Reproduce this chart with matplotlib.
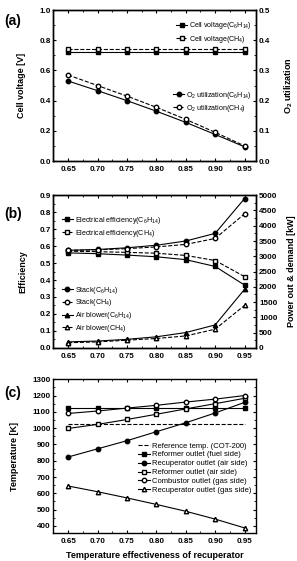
import numpy as np
import matplotlib
matplotlib.use("Agg")
import matplotlib.pyplot as plt
from matplotlib.ticker import MultipleLocator, AutoMinorLocator

plt.rcParams['font.family'] = ['Liberation Sans', 'DejaVu Sans']
plt.rcParams['mathtext.fontset'] = 'custom'
plt.rcParams['mathtext.rm'] = 'Liberation Sans'
plt.rcParams['mathtext.bf'] = 'Liberation Sans:bold'

# x values: temperature effectiveness of recuperator
eff = [0.65, 0.70, 0.75, 0.80, 0.85, 0.90, 0.95]

# (a)
cell_v_c6 = [0.725, 0.725, 0.725, 0.725, 0.725, 0.725, 0.725]
cell_v_ch4 = [0.745, 0.745, 0.745, 0.745, 0.745, 0.745, 0.745]
o2_util_c6 = [0.265, 0.233, 0.200, 0.165, 0.128, 0.088, 0.047]
o2_util_ch4 = [0.285, 0.250, 0.215, 0.178, 0.138, 0.095, 0.050]

# (b)
elec_eff_c6 = [0.560, 0.555, 0.547, 0.537, 0.520, 0.480, 0.370]
elec_eff_ch4 = [0.570, 0.567, 0.563, 0.558, 0.545, 0.515, 0.420]
stack_c6 = [3195, 3222, 3278, 3361, 3500, 3750, 4890]
stack_ch4 = [3195, 3211, 3250, 3306, 3389, 3583, 4390]
blower_c6 = [195, 222, 278, 361, 500, 750, 1917]
blower_ch4 = [167, 194, 250, 306, 389, 611, 1389]

# (c)
ref_temp = [1023, 1023, 1023, 1023, 1023, 1023, 1023]
reformer_fuel = [1123, 1123, 1123, 1123, 1123, 1123, 1123]
recup_air = [823, 873, 923, 978, 1033, 1093, 1158]
reformer_air = [998, 1023, 1053, 1085, 1118, 1150, 1183]
combustor_gas = [1090, 1105, 1123, 1140, 1160, 1178, 1200]
recup_gas = [645, 610, 572, 532, 490, 442, 388]

TICK_FS = 5.8
LAB_FS = 6.5
LEG_FS = 5.1
MS = 3.2
LW = 0.8


def style_axis(ax, right=True):
    ax.tick_params(direction='in', length=2.5, width=0.8, labelsize=TICK_FS,
                   top=True, right=right, pad=2)
    ax.tick_params(axis='x', pad=3.5)
    ax.tick_params(which='minor', direction='in', length=1.5, width=0.6,
                   top=True, right=right)
    for lab in ax.get_xticklabels() + ax.get_yticklabels():
        lab.set_fontweight('bold')
    for s in ax.spines.values():
        s.set_linewidth(1.0)


def leg(ax, handles, loc, anchor, fs=LEG_FS, spacing=0.3):
    lg = ax.legend(handles=handles, loc=loc, bbox_to_anchor=anchor, frameon=False,
                   fontsize=fs, handlelength=1.6, handletextpad=0.3,
                   labelspacing=spacing, borderaxespad=0.2)
    return lg


fig = plt.figure(figsize=(2.97, 5.61), dpi=100)
L, W = 0.180, 0.683

# ---------------- (a) ----------------
ax = fig.add_axes([L, 0.713, W, 0.269])
axr = ax.twinx()
h1, = ax.plot(eff, cell_v_c6, '-s', color='k', mfc='k', ms=MS, lw=LW,
              label='Cell voltage(C$_6$H$_{14}$)')
h2, = ax.plot(eff, cell_v_ch4, '--s', color='k', mfc='white', ms=MS, lw=LW,
              label='Cell voltage(CH$_4$)')
h3, = axr.plot(eff, o2_util_c6, '-o', color='k', mfc='k', ms=MS, lw=LW,
               label='O$_2$ utilization(C$_6$H$_{14}$)')
h4, = axr.plot(eff, o2_util_ch4, '--o', color='k', mfc='white', ms=MS, lw=LW,
               label='O$_2$ utilization(CH$_4$)')
ax.set_xlim(0.625, 0.97)
ax.set_ylim(0, 1.0)
axr.set_ylim(0, 0.5)
ax.xaxis.set_major_locator(MultipleLocator(0.05))
ax.xaxis.set_minor_locator(AutoMinorLocator(2))
ax.yaxis.set_major_locator(MultipleLocator(0.2))
ax.yaxis.set_minor_locator(AutoMinorLocator(2))
axr.yaxis.set_major_locator(MultipleLocator(0.1))
axr.yaxis.set_minor_locator(AutoMinorLocator(2))
ax.set_ylabel('Cell voltage [V]', fontsize=LAB_FS, fontweight='bold')
axr.set_ylabel('O$_\\mathbf{2}$ utilization', fontsize=LAB_FS, fontweight='bold')
ax.yaxis.set_label_coords(-0.133, 0.5)
axr.yaxis.set_label_coords(1.128, 0.5)
style_axis(ax, right=False)
style_axis(axr)
l1 = leg(axr, [h1, h2], 'upper right', (1.0, 0.96))
axr.add_artist(l1)
leg(axr, [h3, h4], 'upper right', (1.0, 0.50))
fig.text(0.015, 0.962, '(a)', fontsize=10, fontweight='bold', va='center')

# ---------------- (b) ----------------
ax = fig.add_axes([L, 0.380, W, 0.272])
axr = ax.twinx()
g1, = ax.plot(eff, elec_eff_c6, '-s', color='k', mfc='k', ms=MS, lw=LW,
              label='Electrical efficiency(C$_6$H$_{14}$)')
g2, = ax.plot(eff, elec_eff_ch4, '--s', color='k', mfc='white', ms=MS, lw=LW,
              label='Electrical efficiency(CH$_4$)')
g3, = axr.plot(eff, stack_c6, '-o', color='k', mfc='k', ms=MS, lw=LW,
               label='Stack(C$_6$H$_{14}$)')
g4, = axr.plot(eff, stack_ch4, '--o', color='k', mfc='white', ms=MS, lw=LW,
               label='Stack(CH$_4$)')
g5, = axr.plot(eff, blower_c6, '-^', color='k', mfc='k', ms=MS, lw=LW,
               label='Air blower(C$_6$H$_{14}$)')
g6, = axr.plot(eff, blower_ch4, '--^', color='k', mfc='white', ms=MS, lw=LW,
               label='Air blower(CH$_4$)')
ax.set_xlim(0.625, 0.97)
ax.set_ylim(0, 0.9)
axr.set_ylim(0, 5000)
ax.xaxis.set_major_locator(MultipleLocator(0.05))
ax.xaxis.set_minor_locator(AutoMinorLocator(2))
ax.yaxis.set_major_locator(MultipleLocator(0.1))
ax.yaxis.set_minor_locator(AutoMinorLocator(2))
axr.yaxis.set_major_locator(MultipleLocator(500))
axr.yaxis.set_minor_locator(AutoMinorLocator(2))
ax.set_ylabel('Efficiency', fontsize=LAB_FS, fontweight='bold')
axr.set_ylabel('Power out & demand [kW]', fontsize=LAB_FS, fontweight='bold')
ax.yaxis.set_label_coords(-0.128, 0.5)
axr.yaxis.set_label_coords(1.150, 0.5)
style_axis(ax, right=False)
style_axis(axr)
l1 = leg(axr, [g1, g2], 'upper left', (0.02, 0.90))
axr.add_artist(l1)
leg(axr, [g3, g4, g5, g6], 'upper left', (0.02, 0.44), spacing=0.22)
fig.text(0.015, 0.618, '(b)', fontsize=10, fontweight='bold', va='center')

# ---------------- (c) ----------------
ax = fig.add_axes([L, 0.050, W, 0.274])
k1, = ax.plot(eff, ref_temp, '--', color='k', lw=LW,
              label='Reference temp. (COT-200)')
k2, = ax.plot(eff, reformer_fuel, '-s', color='k', mfc='k', ms=MS, lw=LW,
              label='Reformer outlet (fuel side)')
k3, = ax.plot(eff, recup_air, '-o', color='k', mfc='k', ms=MS, lw=LW,
              label='Recuperator outlet (air side)')
k4, = ax.plot(eff, reformer_air, '-s', color='k', mfc='white', ms=MS, lw=LW,
              label='Reformer outlet (air side)')
k5, = ax.plot(eff, combustor_gas, '-o', color='k', mfc='white', ms=MS, lw=LW,
              label='Combustor outlet (gas side)')
k6, = ax.plot(eff, recup_gas, '-^', color='k', mfc='white', ms=MS, lw=LW,
              label='Recuperator outlet (gas side)')
ax.set_xlim(0.625, 0.97)
ax.set_ylim(357, 1300)
ax.xaxis.set_major_locator(MultipleLocator(0.05))
ax.xaxis.set_minor_locator(AutoMinorLocator(2))
ax.yaxis.set_minor_locator(AutoMinorLocator(2))
ax.set_yticks(np.arange(400, 1301, 100))
ax.set_ylabel('Temperature [K]', fontsize=LAB_FS, fontweight='bold')
ax.yaxis.set_label_coords(-0.172, 0.5)
ax.set_xlabel('Temperature effectiveness of recuperator', fontsize=LAB_FS,
              fontweight='bold', labelpad=4.5)
style_axis(ax, right=True)
leg(ax, [k1, k2, k3, k4, k5, k6], 'upper right', (1.0, 0.62), fs=5.5, spacing=0.2)
fig.text(0.015, 0.300, '(c)', fontsize=10, fontweight='bold', va='center')

fig.savefig('out.png', dpi=100)
